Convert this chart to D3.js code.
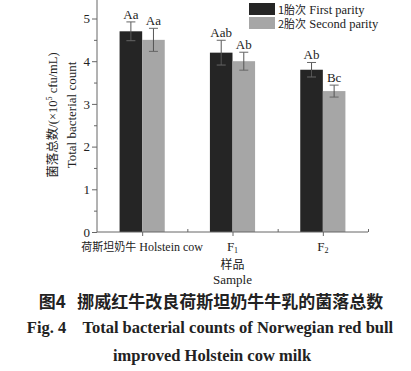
<!DOCTYPE html>
<html><head><meta charset="utf-8">
<script src="https://cdn.jsdelivr.net/npm/d3@7"></script>
<style>body{margin:0;background:#fff}svg{display:block}</style>
</head><body>
<script>
const categories = ["荷斯坦奶牛 Holstein cow", "F1", "F2"];
const seriesNames = ["1胎次 First parity", "2胎次 Second parity"];
const firstParity = [4.7, 4.2, 3.8];
const secondParity = [4.5, 4.0, 3.3];
const firstErr = [0.22, 0.29, 0.17];
const secondErr = [0.27, 0.21, 0.14];
const firstLabels = ["Aa", "Aab", "Ab"];
const secondLabels = ["Aa", "Ab", "Bc"];
const yTicks = [0, 1, 2, 3, 4, 5];

const W = 411, H = 371;
const svg = d3.select("body").append("svg").attr("width", W).attr("height", H);
const serif = "'Liberation Serif','Times New Roman',serif";
const cjk = "'Noto Sans CJK SC',sans-serif";
const txt = "#222";
const axisCol = "#666";

const x = d3.scaleLinear().domain([0.5, 3.5]).range([97, 368]);
const y = d3.scaleLinear().domain([0, 5]).range([232, 18.5]);
const bw = 0.25;
const colors = ["#252525", "#a6a6a6"];
const series = [
  {vals: firstParity, err: firstErr, labels: firstLabels, off: -bw},
  {vals: secondParity, err: secondErr, labels: secondLabels, off: 0}
];

const g = svg.append("g");
series.forEach((s, si) => {
  s.vals.forEach((v, i) => {
    const x0 = x(i + 1 + s.off), x1 = x(i + 1 + s.off + bw);
    g.append("rect").attr("x", x0).attr("y", y(v)).attr("width", x1 - x0).attr("height", y(0) - y(v)).attr("fill", colors[si]);
    const cx = (x0 + x1) / 2;
    const top = y(v + s.err[i]), bot = y(v - s.err[i]);
    g.append("line").attr("x1", cx).attr("x2", cx).attr("y1", top).attr("y2", bot).attr("stroke", "#555").attr("stroke-width", 1);
    [top, bot].forEach(yy => g.append("line").attr("x1", cx - 4.5).attr("x2", cx + 4.5).attr("y1", yy).attr("y2", yy).attr("stroke", "#666").attr("stroke-width", 1));
    g.append("text").attr("x", cx).attr("y", top - 3).attr("text-anchor", "middle")
      .attr("font-family", serif).attr("font-size", 13).attr("fill", txt).text(s.labels[i]);
  });
});

// Y axis
const yAxis = d3.axisLeft(y).tickValues(yTicks).tickSize(5).tickPadding(2).tickFormat(d3.format("d"));
const ya = svg.append("g").attr("transform", "translate(97,0)").call(yAxis);
ya.select(".domain").remove();
ya.selectAll("line").attr("stroke", axisCol);
ya.selectAll("text").attr("font-family", serif).attr("font-size", 13).attr("fill", txt);
const yMinor = d3.axisLeft(y).tickValues([0.5, 1.5, 2.5, 3.5, 4.5]).tickSize(3).tickFormat("");
const ym = svg.append("g").attr("transform", "translate(97,0)").call(yMinor);
ym.select(".domain").remove();
ym.selectAll("line").attr("stroke", axisCol);
svg.append("line").attr("x1", 97).attr("x2", 97).attr("y1", 0).attr("y2", y(0)).attr("stroke", axisCol);

// X axis
const xAxis = d3.axisBottom(x).tickValues([1, 2, 3]).tickSize(4).tickFormat("");
const xa = svg.append("g").attr("transform", `translate(0,${y(0)})`).call(xAxis);
xa.select(".domain").remove();
xa.selectAll("line").attr("stroke", axisCol);
const xMinor = d3.axisTop(x).tickValues([1.5, 2.5, 3.5]).tickSize(3).tickFormat("");
const xm = svg.append("g").attr("transform", `translate(0,${y(0)})`).call(xMinor);
xm.select(".domain").remove();
xm.selectAll("line").attr("stroke", axisCol);
svg.append("line").attr("x1", 97).attr("x2", 368).attr("y1", y(0)).attr("y2", y(0)).attr("stroke", axisCol);

// X tick labels
const tl = svg.append("text").attr("x", x(1)).attr("y", 250.5).attr("text-anchor", "middle").attr("font-size", 12).attr("fill", txt);
tl.append("tspan").attr("font-family", cjk).attr("font-size", 11).text("荷斯坦奶牛");
tl.append("tspan").attr("font-family", serif).text(" Holstein cow");
[2, 3].forEach((c, k) => {
  const t = svg.append("text").attr("x", x(c)).attr("y", 250.5).attr("text-anchor", "middle").attr("font-family", serif).attr("font-size", 13).attr("fill", txt);
  t.append("tspan").text("F");
  t.append("tspan").attr("font-size", 8).attr("dy", 2).text(String(k + 1));
});

// X axis title
svg.append("text").attr("x", x(2)).attr("y", 269).attr("text-anchor", "middle").attr("font-family", cjk).attr("font-size", 12).attr("fill", txt).text("样品");
svg.append("text").attr("x", x(2)).attr("y", 284).attr("text-anchor", "middle").attr("font-family", serif).attr("font-size", 13).attr("fill", txt).text("Sample");

// Y axis title
const yt = svg.append("g").attr("transform", "translate(57,115) rotate(-90)");
const yl1 = yt.append("text").attr("text-anchor", "middle").attr("font-size", 12.5).attr("fill", txt);
yl1.append("tspan").attr("font-family", cjk).text("菌落总数");
yl1.append("tspan").attr("font-family", serif).text("/(×10");
yl1.append("tspan").attr("font-family", serif).attr("font-size", 8).attr("dy", -5).text("5");
yl1.append("tspan").attr("font-family", serif).attr("dy", 5).text(" cfu/mL)");
yt.append("text").attr("y", 19).attr("text-anchor", "middle").attr("font-family", serif).attr("font-size", 13).attr("fill", txt).text("Total bacterial count");

// Legend
seriesNames.forEach((n, i) => {
  svg.append("rect").attr("x", 249).attr("y", 3 + i * 14).attr("width", 26).attr("height", 12).attr("fill", colors[i]);
  const t = svg.append("text").attr("x", 278).attr("y", 13.5 + i * 14).attr("font-size", 12).attr("fill", txt);
  const parts = n.split(" ");
  t.append("tspan").attr("font-family", cjk).attr("font-size", 11).text(parts[0]);
  t.append("tspan").attr("font-family", serif).attr("font-size", 12.5).text(" " + parts.slice(1).join(" "));
});

// Caption
svg.append("text").attr("x", 211).attr("y", 308).attr("text-anchor", "middle").attr("font-family", cjk).attr("font-weight", "bold").attr("font-size", 17).attr("fill", txt).attr("xml:space", "preserve").text("图4   挪威红牛改良荷斯坦奶牛牛乳的菌落总数");
svg.append("text").attr("x", 210).attr("y", 333).attr("text-anchor", "middle").attr("font-family", serif).attr("font-weight", "bold").attr("font-size", 16.5).attr("fill", txt).attr("xml:space", "preserve").text("Fig. 4    Total bacterial counts of Norwegian red bull");
svg.append("text").attr("x", 212).attr("y", 361).attr("text-anchor", "middle").attr("font-family", serif).attr("font-weight", "bold").attr("font-size", 16.5).attr("fill", txt).text("improved Holstein cow milk");
</script>
</body></html>
